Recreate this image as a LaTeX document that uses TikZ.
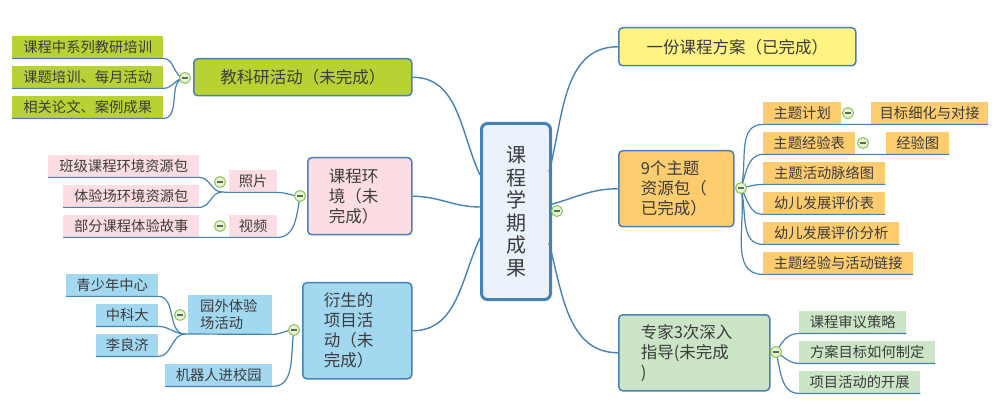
\documentclass[tikz,border=0pt]{standalone}
\usepackage{fontspec}
\newfontfamily\cjk{Noto Sans CJK SC}
\usetikzlibrary{calc}
\definecolor{lineblue}{RGB}{70,130,180}
\definecolor{cenfill}{RGB}{234,242,251}
\definecolor{gjky}{RGB}{184,210,52}
\definecolor{pinkf}{RGB}{253,221,228}
\definecolor{skyf}{RGB}{162,216,240}
\definecolor{yelf}{RGB}{255,244,130}
\definecolor{orgf}{RGB}{252,204,110}
\definecolor{lgrf}{RGB}{204,229,198}
\definecolor{txt}{RGB}{60,60,60}
\definecolor{cgreen}{RGB}{140,195,80}
\definecolor{cfill}{RGB}{230,243,215}
\definecolor{cminus}{RGB}{90,110,80}
\newcommand{\mtxt}{\cjk\fontsize{16.5}{20}\selectfont}
\newcommand{\stxt}{\cjk\fontsize{14.3}{17}\selectfont}
\newcommand{\ctxt}{\cjk\fontsize{20}{22.5}\selectfont}
\begin{document}
\begin{tikzpicture}[x=1pt,y=-1pt,
 conn/.style={draw=lineblue, line width=1.4pt},
 sub/.style={draw=lineblue, line width=1.2pt},
 mainbox/.style={draw=lineblue, line width=1.5pt, rounded corners=4pt, anchor=north west, inner sep=0pt, font=\mtxt, text=txt},
 kid/.style={anchor=north west, inner sep=0pt, minimum height=22pt, font=\stxt, text=txt},
 collapse/.style={circle, draw=cgreen, fill=cfill, line width=1pt, minimum size=11pt, inner sep=0pt,
   path picture={\draw[cminus,line width=1.2pt] ($(path picture bounding box.center)+(-3pt,0pt)$) -- ($(path picture bounding box.center)+(3pt,0pt)$);}}]
\useasboundingbox (0,0) rectangle (1000,411);
\fill[white] (0,0) rectangle (1000,411);

% main nodes
\node[mainbox, fill=cenfill, line width=3pt, rounded corners=6pt, minimum width=69pt, minimum height=176pt, align=center, font=\ctxt] (c) at (480,122) {课\\程\\学\\期\\成\\果};
\node[mainbox, fill=gjky, minimum width=218pt, minimum height=37pt] (jky) at (193,58) {教科研活动（未完成）};
\node[mainbox, fill=pinkf, text width=62pt, inner xsep=21pt, align=left, minimum height=77pt] (env) at (307,157) {课程环\\境（未\\完成）};
\node[mainbox, fill=skyf, text width=67pt, inner xsep=21pt, align=left, minimum height=96pt] (ys) at (302,282) {衍生的\\项目活\\动（未\\完成）};
\node[mainbox, fill=yelf, minimum width=237pt, minimum height=38pt] (fa) at (618,27) {一份课程方案（已完成）};
\node[mainbox, fill=orgf, text width=71pt, inner xsep=22pt, align=left, minimum height=76pt] (zt) at (618,150) {9个主题\\资源包（\\已完成）};
\node[mainbox, fill=lgrf, text width=107pt, inner xsep=22pt, align=left, minimum height=76pt] (zj) at (618,314) {专家3次深入\\指导(未完成\\)};

% children left
\node[kid, fill=gjky, minimum width=151pt] (k1) at (12,36) {课程中系列教研培训};
\node[kid, fill=gjky, minimum width=151pt] (k2) at (12,66) {课题培训、每月活动};
\node[kid, fill=gjky, minimum width=151pt] (k3) at (12,96) {相关论文、案例成果};

\node[kid, fill=pinkf, minimum width=48pt] (zp) at (229,170) {照片};
\node[kid, fill=pinkf, minimum width=48pt] (sp) at (229,215) {视频};
\node[kid, fill=pinkf, minimum width=151pt] (bj) at (48,155) {班级课程环境资源包};
\node[kid, fill=pinkf, minimum width=136pt] (tyc) at (63,185) {体验场环境资源包};
\node[kid, fill=pinkf, minimum width=136pt] (bf) at (63,215) {部分课程体验故事};

\node[kid, fill=skyf, text width=60pt, inner xsep=12pt, align=left, minimum height=39pt] (yw) at (188,295) {园外体验\\场活动};
\node[kid, fill=skyf, minimum width=107pt] (jqr) at (165,364) {机器人进校园};
\node[kid, fill=skyf, minimum width=92pt] (qsn) at (66,274) {青少年中心};
\node[kid, fill=skyf, minimum width=62pt] (zkd) at (96,304) {中科大};
\node[kid, fill=skyf, minimum width=62pt] (llj) at (96,334) {李良济};

% children right
\node[kid, fill=orgf, minimum width=78pt] (a1) at (763,102) {主题计划};
\node[kid, fill=orgf, minimum width=117pt] (a1b) at (871,102) {目标细化与对接};
\node[kid, fill=orgf, minimum width=92pt] (a2) at (763,132) {主题经验表};
\node[kid, fill=orgf, minimum width=63pt] (a2b) at (886,132) {经验图};
\node[kid, fill=orgf, minimum width=122pt] (a3) at (763,162) {主题活动脉络图};
\node[kid, fill=orgf, minimum width=122pt] (a4) at (763,192) {幼儿发展评价表};
\node[kid, fill=orgf, minimum width=136pt] (a5) at (763,222) {幼儿发展评价分析};
\node[kid, fill=orgf, minimum width=150pt] (a6) at (763,252) {主题经验与活动链接};

\node[kid, fill=lgrf, minimum width=107pt] (b1) at (799,311) {课程审议策略};
\node[kid, fill=lgrf, minimum width=136pt] (b2) at (799,341) {方案目标如何制定};
\node[kid, fill=lgrf, minimum width=121pt] (b3) at (799,371) {项目活动的开展};

% coordinates
\coordinate (cl1) at (480,175);
\coordinate (cl2) at (480,207);
\coordinate (cl3) at (480,238);
\coordinate (cr1) at (549,172);
\coordinate (cr2) at (549,205);
\coordinate (cr3) at (549,243);
\coordinate (jzp) at (222,192);
\coordinate (jyw) at (185,334);
\coordinate (pcc) at (557,211);
\coordinate (pcjky) at (185,78);
\coordinate (pcenv) at (300,196);
\coordinate (pczp) at (220,182);
\coordinate (pcsp) at (220,226);
\coordinate (pcys) at (294,330);
\coordinate (pcyw) at (180,315);
\coordinate (pczt) at (741,188);
\coordinate (pca1) at (848,113);
\coordinate (pca2) at (863,143);
\coordinate (pczj) at (776,352);

% main connectors
\draw[conn] (jky.east) to[out=0,in=115] (cl1);
\draw[conn] (env.east) to[out=0,in=180] (cl2);
\draw[conn] (ys.east) to[out=0,in=245] (cl3);
\draw[conn] (cr1) to[out=75,in=180] (fa.west);
\draw[conn] (cr2) to[out=15,in=180] (zt.west);
\draw[conn] (cr3) to[out=-75,in=180] (zj.west);

% sub connectors
\draw[sub] (pcjky) to[out=180,in=0] (k1.south east) -- (k1.south west);
\draw[sub] (pcjky) to[out=180,in=0] (k2.south east) -- (k2.south west);
\draw[sub] (pcjky) to[out=180,in=0] (k3.south east) -- (k3.south west);

\draw[sub] (pcenv) to[out=180,in=0] (zp.south east) -- (zp.south west) -- (jzp);
\draw[sub] (jzp) to[out=180,in=0] (bj.south east) -- (bj.south west);
\draw[sub] (jzp) to[out=180,in=0] (tyc.south east) -- (tyc.south west);
\draw[sub] (pcenv) to[out=-100,in=0] (sp.south east) -- (sp.south west) -- (bf.south east) -- (bf.south west);

\draw[sub] (pcys) to[out=180,in=0] (yw.south east) -- (jyw);
\draw[sub] (jyw) to[out=180,in=0] (qsn.south east) -- (qsn.south west);
\draw[sub] (jyw) to[out=180,in=0] (zkd.south east) -- (zkd.south west);
\draw[sub] (jyw) to[out=180,in=0] (llj.south east) -- (llj.south west);
\draw[sub] (pcys) to[out=-100,in=0] (jqr.south east) -- (jqr.south west);

\draw[sub] (pczt) to[out=75,in=180] (a1.south west) -- (a1b.south east);
\draw[sub] (pczt) to[out=70,in=180] (a2.south west) -- (a2b.south east);
\draw[sub] (pczt) to[out=10,in=180] (a3.south west) -- (a3.south east);
\draw[sub] (pczt) to[out=-60,in=180] (a4.south west) -- (a4.south east);
\draw[sub] (pczt) to[out=-75,in=180] (a5.south west) -- (a5.south east);
\draw[sub] (pczt) to[out=-80,in=180] (a6.south west) -- (a6.south east);

\draw[sub] (pczj) to[out=60,in=180] (b1.south west) -- (b1.south east);
\draw[sub] (pczj) to[out=-30,in=180] (b2.south west) -- (b2.south east);
\draw[sub] (pczj) to[out=-75,in=180] (b3.south west) -- (b3.south east);

% collapse markers
\node[collapse] (cc) at (pcc) {};
\node[collapse] (cjky) at (pcjky) {};
\node[collapse] (cenv) at (pcenv) {};
\node[collapse] (czp) at (pczp) {};
\node[collapse] (csp) at (pcsp) {};
\node[collapse] (cys) at (pcys) {};
\node[collapse] (cyw) at (pcyw) {};
\node[collapse] (czt) at (pczt) {};
\node[collapse] (ca1) at (pca1) {};
\node[collapse] (ca2) at (pca2) {};
\node[collapse] (czj) at (pczj) {};
\end{tikzpicture}
\end{document}
